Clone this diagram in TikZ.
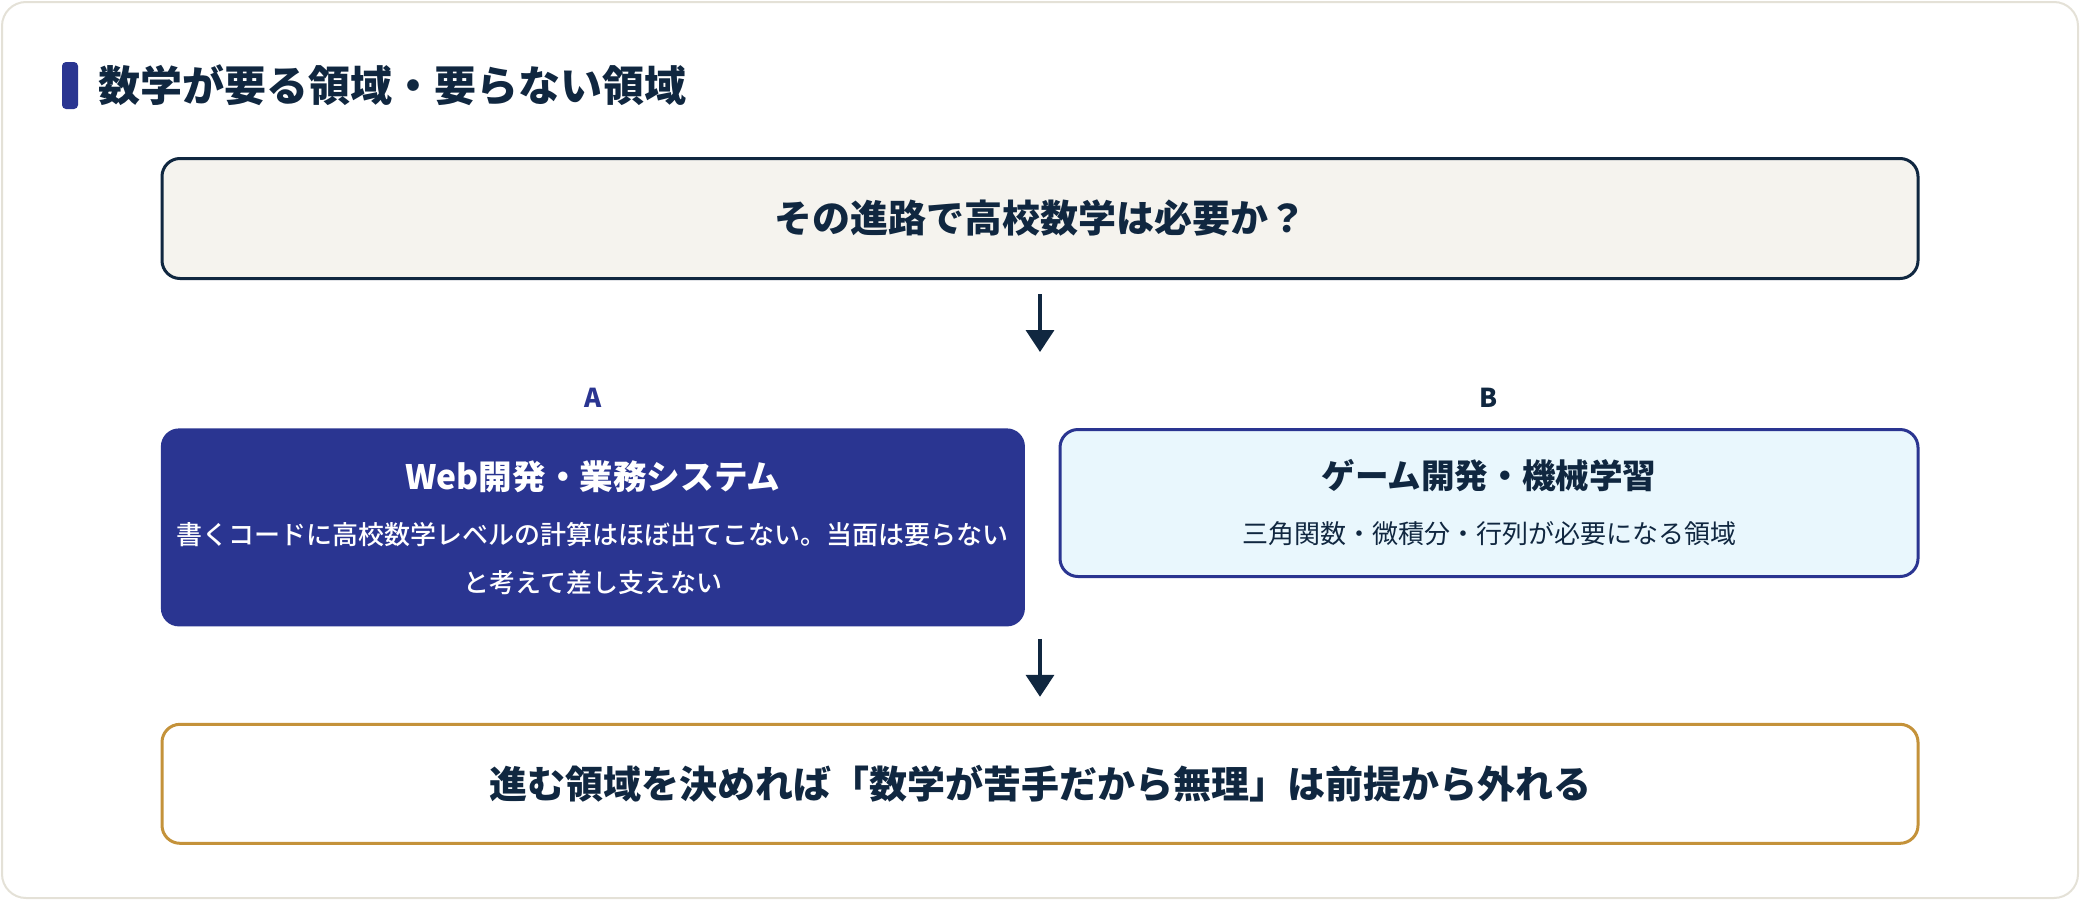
\documentclass[tikz,border=0pt]{standalone}
\usepackage{fontspec}
\setmainfont{Noto Sans CJK JP}
\IfFontExistsTF{Noto Sans CJK JP Medium}
  {\newfontfamily\medfont{Noto Sans CJK JP Medium}}
  {\newcommand\medfont{\normalfont}}
\usepackage{tikz}
\usetikzlibrary{arrows.meta, positioning}
\definecolor{ink}{RGB}{16,39,64}
\definecolor{indigo}{RGB}{42,53,145}
\definecolor{paper}{RGB}{245,243,238}
\definecolor{sky}{RGB}{233,247,253}
\definecolor{gold}{RGB}{196,146,58}
\definecolor{edge}{RGB}{228,225,215}
\tikzset{
  bar/.style={rectangle, rounded corners=2pt, fill=indigo, minimum width=8pt, minimum height=23.5pt, inner sep=0pt},
  heading/.style={font=\bfseries\fontsize{21}{25}\selectfont, text=ink, inner sep=0pt},
  qbox/.style={rectangle, rounded corners=9pt, draw=ink, line width=1.5pt, fill=paper, minimum width=878pt, minimum height=60pt, font=\bfseries\fontsize{19}{22}\selectfont, text=ink},
  abox/.style={rectangle, rounded corners=9pt, fill=indigo, text=white, minimum width=432pt, minimum height=99pt, text width=420pt, align=center, font=\medfont\fontsize{13}{24}\selectfont},
  bbox/.style={rectangle, rounded corners=9pt, draw=indigo, line width=1.5pt, fill=sky, text=ink, minimum width=429pt, minimum height=73.5pt, text width=420pt, align=center, font=\fontsize{13}{24}\selectfont},
  goalbox/.style={rectangle, rounded corners=9pt, draw=gold, line width=1.5pt, fill=white, minimum width=878pt, minimum height=59.5pt, font=\bfseries\fontsize{19}{22}\selectfont, text=ink},
  tag/.style={font=\bfseries\fontsize{13}{15}\selectfont, inner sep=0pt},
  arrow/.style={-{Triangle[length=11pt, width=14pt]}, line width=1.8pt, color=ink},
}
\newcommand\boxtitle{\normalfont\bfseries\fontsize{16.8}{24}\selectfont}

\begin{document}
\begin{tikzpicture}[x=0.5pt, y=-0.5pt]
  \useasboundingbox (0,0) rectangle (2080,900);
  \draw[edge, fill=white, rounded corners=12pt, line width=1pt] (2,2) rectangle (2078,898);

  \node[bar] (bar) at (70,85.5) {};
  \node[heading, right=10pt of bar] (heading) {数学が要る領域・要らない領域};

  \node[qbox] (question) at (1040,218.5) {その進路で高校数学は必要か？};
  \node[abox, below right=74pt and 0pt of question.south west] (web)
    {{\boxtitle Web開発・業務システム}\\[3.5pt]
     書くコードに高校数学レベルの計算はほぼ出てこない。当面は要らない\\
     と考えて差し支えない};
  \node[bbox, below left=74pt and 0pt of question.south east] (game)
    {{\boxtitle ゲーム開発・機械学習}\\[3.5pt]
     三角関数・微積分・行列が必要になる領域};
  \node[tag, text=indigo, above=10pt of web] (tagA) {A};
  \node[tag, text=ink, above=10pt of game] (tagB) {B};

  \coordinate (fork) at (1040,352);
  \coordinate (join) at (question.south |- web.south);
  \node[goalbox, below=48pt of join] (final) {進む領域を決めれば「数学が苦手だから無理」は前提から外れる};

  \draw[arrow, shorten <=7pt] (question) -- (fork);
  \draw[arrow, shorten <=6pt, shorten >=13pt] (join) -- (final);
\end{tikzpicture}
\end{document}
